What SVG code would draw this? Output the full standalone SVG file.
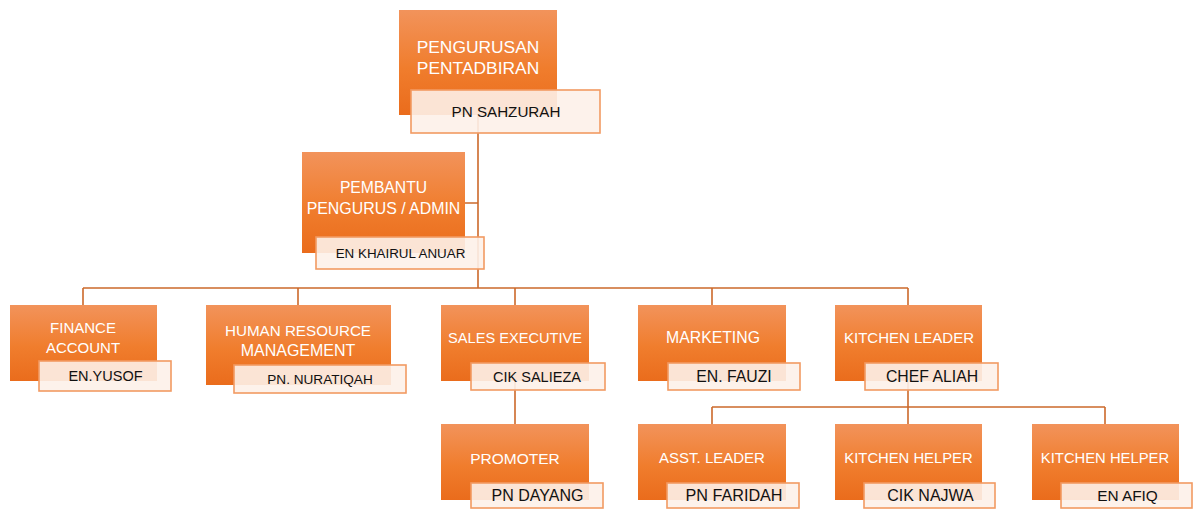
<svg xmlns="http://www.w3.org/2000/svg" width="1199" height="512" viewBox="0 0 1199 512">
<defs>
<linearGradient id="og" x1="0" y1="0" x2="0" y2="1">
<stop offset="0" stop-color="#F2935B"/>
<stop offset="0.55" stop-color="#F07D2D"/>
<stop offset="1" stop-color="#EA6C1C"/>
</linearGradient>
</defs>
<style>
.box{fill:url(#og);}
.nm{fill:#FDF1E9;fill-opacity:0.9;stroke:#F29A62;stroke-width:1.6;}
.t{font-family:"Liberation Sans",Arial,sans-serif;fill:#FFFFFF;text-anchor:middle;}
.n{font-family:"Liberation Sans",Arial,sans-serif;fill:#111111;text-anchor:middle;}
.c{fill:none;stroke:#CC692B;stroke-width:1.6;}
</style>
<rect width="1199" height="512" fill="#FFFFFF"/>
<g id="connectors">
<path class="c" d="M478 115V288M465 203H478M83 288H908M83 288V305M298 288V305M515 288V305M712 288V305M908 288V305"/>
<path class="c" d="M515 381V424M908 381V407M712 407H1105M712 407V424M908 407V424M1105 407V424"/>
</g>
<g id="n-pengurusan">
<rect class="box" x="399" y="10" width="158" height="105"/>
<text class="t" x="478" y="53" style="font-size:17.4px">PENGURUSAN</text>
<text class="t" x="478" y="74" style="font-size:17.4px">PENTADBIRAN</text>
<rect class="nm" x="411" y="90" width="189" height="43"/>
<text class="n" x="506" y="117" style="font-size:15.2px">PN SAHZURAH</text>
</g>
<g id="n-pembantu">
<rect class="box" x="302" y="152" width="163" height="101"/>
<text class="t" x="383.5" y="193" style="font-size:15.7px">PEMBANTU</text>
<text class="t" x="383.5" y="214" style="font-size:15.9px">PENGURUS / ADMIN</text>
<rect class="nm" x="316" y="237" width="168" height="32"/>
<text class="n" x="400.5" y="258" style="font-size:13.4px">EN KHAIRUL ANUAR</text>
</g>
<g id="n-finance">
<rect class="box" x="10" y="305" width="147" height="76"/>
<text class="t" x="83" y="333" style="font-size:15px">FINANCE</text>
<text class="t" x="83" y="353" style="font-size:15px">ACCOUNT</text>
<rect class="nm" x="39" y="361" width="132" height="30"/>
<text class="n" x="105.5" y="381" style="font-size:14.5px">EN.YUSOF</text>
</g>
<g id="n-hr">
<rect class="box" x="206" y="305" width="185" height="80"/>
<text class="t" x="298" y="336" style="font-size:15.2px">HUMAN RESOURCE</text>
<text class="t" x="298" y="356" style="font-size:16px">MANAGEMENT</text>
<rect class="nm" x="234" y="365" width="172" height="28"/>
<text class="n" x="320" y="384" style="font-size:13.6px">PN. NURATIQAH</text>
</g>
<g id="n-sales">
<rect class="box" x="441" y="305" width="148" height="76"/>
<text class="t" x="515" y="343" style="font-size:14.6px">SALES EXECUTIVE</text>
<rect class="nm" x="471" y="363" width="134" height="27"/>
<text class="n" x="537" y="382" style="font-size:14.5px">CIK SALIEZA</text>
</g>
<g id="n-marketing">
<rect class="box" x="638" y="305" width="148" height="76"/>
<text class="t" x="713" y="343" style="font-size:15.8px">MARKETING</text>
<rect class="nm" x="668" y="363" width="132" height="27"/>
<text class="n" x="734" y="382" style="font-size:15.8px">EN. FAUZI</text>
</g>
<g id="n-kitchen">
<rect class="box" x="835" y="305" width="147" height="76"/>
<text class="t" x="909" y="343" style="font-size:15px">KITCHEN LEADER</text>
<rect class="nm" x="865" y="363" width="133" height="27"/>
<text class="n" x="932" y="382" style="font-size:15.8px">CHEF ALIAH</text>
</g>
<g id="n-promoter">
<rect class="box" x="441" y="424" width="148" height="76"/>
<text class="t" x="515" y="464" style="font-size:15.5px">PROMOTER</text>
<rect class="nm" x="471" y="483" width="132" height="25"/>
<text class="n" x="537.5" y="501" style="font-size:16px">PN DAYANG</text>
</g>
<g id="n-asst">
<rect class="box" x="638" y="424" width="148" height="76"/>
<text class="t" x="712" y="463" style="font-size:15px">ASST. LEADER</text>
<rect class="nm" x="667" y="483" width="132" height="25"/>
<text class="n" x="734" y="501" style="font-size:16.2px">PN FARIDAH</text>
</g>
<g id="n-helper1">
<rect class="box" x="835" y="424" width="147" height="76"/>
<text class="t" x="908.5" y="463" style="font-size:14.8px">KITCHEN HELPER</text>
<rect class="nm" x="864" y="483" width="131" height="25"/>
<text class="n" x="930.5" y="501" style="font-size:16px">CIK NAJWA</text>
</g>
<g id="n-helper2">
<rect class="box" x="1032" y="424" width="147" height="76"/>
<text class="t" x="1105" y="463" style="font-size:14.8px">KITCHEN HELPER</text>
<rect class="nm" x="1061" y="483" width="131" height="25"/>
<text class="n" x="1127.5" y="501" style="font-size:15.4px">EN AFIQ</text>
</g>
</svg>
